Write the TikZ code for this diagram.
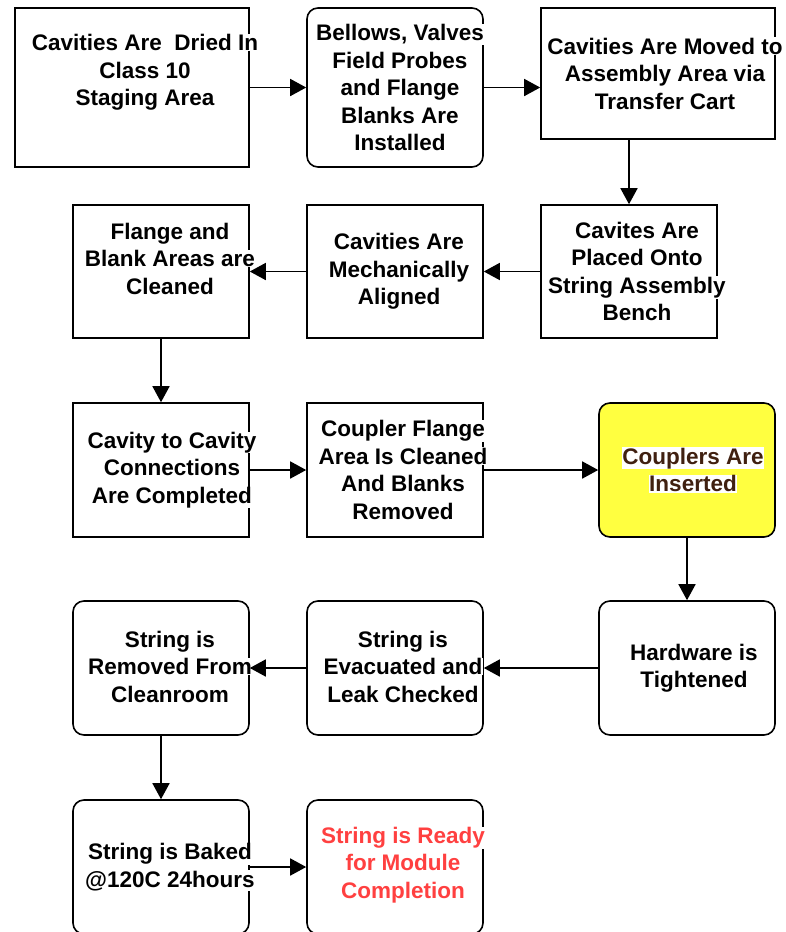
\documentclass[tikz,border=0pt]{standalone}
\usepackage{fontspec}
\setmainfont{Liberation Sans}
\usetikzlibrary{arrows.meta}

\definecolor{noteyellow}{RGB}{255,255,64}
\definecolor{notebrown}{RGB}{64,32,16}
\definecolor{donered}{RGB}{255,64,64}

% white strip behind each text line, so it breaks the box outline
\setlength{\fboxsep}{0.5pt}
\newcommand{\stepline}[1]{\colorbox{white}{#1}}

\begin{document}
\begin{tikzpicture}[x=1pt,y=-1pt,
    box/.style={draw, line width=1.6pt, inner sep=0pt, minimum width=176pt, minimum height=134pt},
    roundbox/.style={box, rounded corners=11pt},
    steptext/.style={align=center, inner sep=0pt, font=\fontsize{22.5}{27.5}\selectfont\bfseries},
    flow/.style={line width=1.6pt, -{Triangle[length=16pt,width=17pt]}}]

    \useasboundingbox (0,0) rectangle (786,932);
    \clip (0,0) rectangle (786,932);

    % Row 1
    \node[box, minimum width=234pt, minimum height=159pt,
        label={[steptext,xshift=13pt,yshift=15pt]center:{\stepline{Cavities Are~ Dried In}\\\stepline{Class 10}\\\stepline{Staging Area}}}]
        (dry) at (132,87.5) {};
    \node[roundbox, minimum height=159pt,
        label={[steptext,xshift=5pt]center:{\stepline{Bellows, Valves}\\\stepline{Field Probes}\\\stepline{and Flange}\\\stepline{Blanks Are}\\\stepline{Installed}}}]
        (install) at (395,87.5) {};
    \node[box, minimum width=234pt, minimum height=131pt,
        label={[steptext,xshift=7pt]center:{\stepline{Cavities Are Moved to}\\\stepline{Assembly Area via}\\\stepline{Transfer Cart}}}]
        (cart) at (658,73.5) {};

    % Row 2
    \node[box, minimum height=133pt,
        label={[steptext,xshift=8pt]center:{\stepline{Cavites Are}\\\stepline{Placed Onto}\\\stepline{String Assembly}\\\stepline{Bench}}}]
        (bench) at (629,271.5) {};
    \node[box, minimum height=133pt,
        label={[steptext,xshift=4pt]center:{\stepline{Cavities Are}\\\stepline{Mechanically}\\\stepline{Aligned}}}]
        (align) at (395,271.5) {};
    \node[box, minimum height=133pt,
        label={[steptext,xshift=9pt,yshift=13pt]center:{\stepline{Flange and}\\\stepline{Blank Areas are}\\\stepline{Cleaned}}}]
        (flange) at (161,271.5) {};

    % Row 3
    \node[box,
        label={[steptext,xshift=11pt]center:{\stepline{Cavity to Cavity}\\\stepline{Connections}\\\stepline{Are Completed}}}]
        (connect) at (161,470) {};
    \node[box,
        label={[steptext,xshift=8pt]center:{\stepline{Coupler Flange}\\\stepline{Area Is Cleaned}\\\stepline{And Blanks}\\\stepline{Removed}}}]
        (coupler) at (395,470) {};
    \node[roundbox, fill=noteyellow,
        label={[steptext,text=notebrown,xshift=6pt]center:{\stepline{Couplers Are}\\\stepline{Inserted}}}]
        (insert) at (687,470) {};

    % Row 4
    \node[roundbox,
        label={[steptext,xshift=7pt]center:{\stepline{Hardware is}\\\stepline{Tightened}}}]
        (tighten) at (687,668) {};
    \node[roundbox,
        label={[steptext,xshift=8pt,yshift=1.5pt]center:{\stepline{String is}\\\stepline{Evacuated and}\\\stepline{Leak Checked}}}]
        (leak) at (395,668) {};
    \node[roundbox,
        label={[steptext,xshift=9pt,yshift=1.5pt]center:{\stepline{String is}\\\stepline{Removed From}\\\stepline{Cleanroom}}}]
        (remove) at (161,668) {};

    % Row 5
    \node[roundbox,
        label={[steptext,xshift=9pt]center:{\stepline{String is Baked}\\\stepline{@120C 24hours}}}]
        (bake) at (161,867) {};
    \node[roundbox,
        label={[steptext,text=donered,xshift=8pt,yshift=2pt]center:{\stepline{String is Ready}\\\stepline{for Module}\\\stepline{Completion}}}]
        (ready) at (395,867) {};

    % Flow
    \draw[flow] (dry) -- (install);
    \draw[flow] (install.east) -- (install.east -| cart.west);
    \draw[flow] (bench.north |- cart.south) -- (bench.north);
    \draw[flow] (bench) -- (align);
    \draw[flow] (align) -- (flange);
    \draw[flow] (flange) -- (connect);
    \draw[flow] (connect) -- (coupler);
    \draw[flow] (coupler) -- (insert);
    \draw[flow] (insert) -- (tighten);
    \draw[flow] (tighten) -- (leak);
    \draw[flow] (leak) -- (remove);
    \draw[flow] (remove) -- (bake);
    \draw[flow] (bake) -- (ready);

\end{tikzpicture}
\end{document}
